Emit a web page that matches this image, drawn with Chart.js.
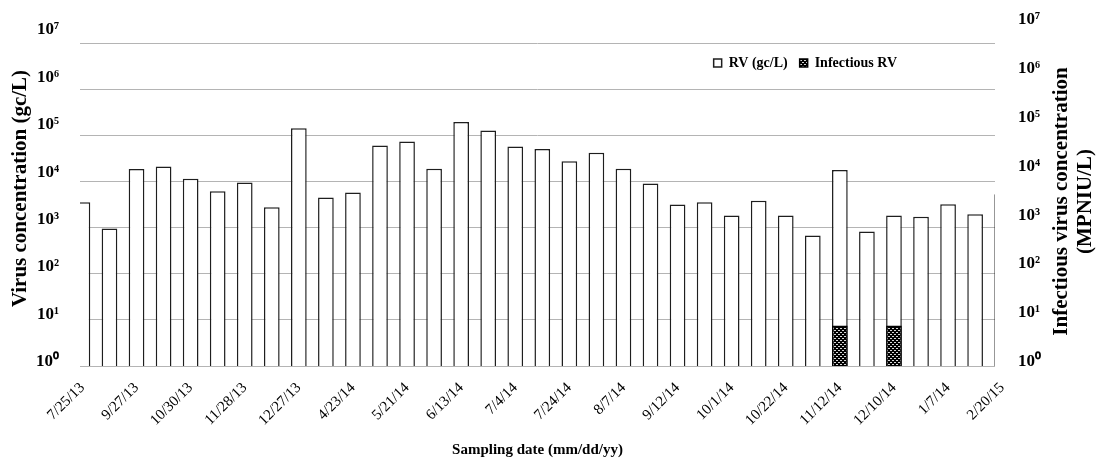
<!DOCTYPE html>
<html>
<head>
<meta charset="utf-8">
<script src="https://cdn.jsdelivr.net/npm/chart.js@4.4.1/dist/chart.umd.min.js"></script>
<style>
    html, body { margin: 0; padding: 0; background: #ffffff; }
    #wrap { width: 1096px; height: 465px; }
</style>
</head>
<body>
<div id="wrap"><canvas id="chart"></canvas></div>
<script>
// ─────────────────────────────────────────────────────────────────────────────
// Rotavirus (RV) — concentración por fecha de muestreo, eje log 10^0..10^7
// ─────────────────────────────────────────────────────────────────────────────

// Una fecha por barra; las barras sin etiqueta quedan en blanco
const dates = [
    '7/25/13', '', '9/27/13', '', '10/30/13', '', '11/28/13', '', '12/27/13', '',
    '4/23/14', '', '5/21/14', '', '6/13/14', '', '7/4/14', '', '7/24/14', '',
    '8/7/14', '', '9/12/14', '', '10/1/14', '', '10/22/14', '', '11/12/14', '',
    '12/10/14', '', '1/7/14', '', '2/20/15'
];

// RV (gc/L)
const rvValues = [
    3560, 950, 18500, 21000, 11400, 6150, 9500, 2770, 143000, 4480,
    5750, 60000, 73400, 18800, 193000, 127000, 57100, 50200, 27500, 41800,
    18800, 9000, 3150, 3550, 1820, 3800, 1820, 670, 17600, 820,
    1820, 1710, 3220, 1950, 5300
];

// Infectious RV (MPN IU/L) — solo dos muestras positivas
const infectiousValues = [
    null, null, null, null, null, null, null, null, null, null,
    null, null, null, null, null, null, null, null, null, null,
    null, null, null, null, null, null, null, null, 7.5, null,
    7.5, null, null, null, null
];

const decades     = [1, 10, 100, 1e3, 1e4, 1e5, 1e6, 1e7];
const SUP         = ['⁰', '¹', '²', '³', '⁴', '⁵', '⁶', '⁷'];
const seriesNames = ['RV (gc/L)', 'Infectious RV'];
const leftTitle   = 'Virus concentration (gc/L)';
const rightTitle  = ['Infectious virus concentration', '(MPNIU/L)'];
const xTitle      = 'Sampling date (mm/dd/yy)';

const SERIF = '"Liberation Serif", "Times New Roman", serif';

// Trama punteada negra para la serie infecciosa
function dottedPattern() {
    const tile = document.createElement('canvas');
    tile.width = 4; tile.height = 4;
    const t = tile.getContext('2d');
    t.fillStyle = '#000000';
    t.fillRect(0, 0, 4, 4);
    t.fillStyle = '#d8d8d8';
    t.fillRect(0, 0, 2, 1);
    t.fillRect(2, 2, 2, 1);
    return t.createPattern(tile, 'repeat');
}

const decadeLabel = v => '10' + SUP[Math.round(Math.log10(v))];
const setDecades  = scale => { scale.ticks = decades.map(v => ({ value: v })); };

// Texto vertical (lectura de abajo hacia arriba), una línea tras otra
function drawVerticalLines(ctx, lines, x, y, gap) {
    ctx.save();
    ctx.translate(x, y);
    ctx.rotate(-Math.PI / 2);
    ctx.font         = 'bold 21px ' + SERIF;
    ctx.fillStyle    = '#000000';
    ctx.textAlign    = 'center';
    ctx.textBaseline = 'middle';
    lines.forEach((line, i) => ctx.fillText(line, 0, i * gap));
    ctx.restore();
}

// Plugin inline: leyenda dentro del área + títulos de ejes verticales
const layoutTweaks = {
    id: 'layoutTweaks',
    afterLayout(chart) {
        const lg   = chart.legend;
        const area = chart.chartArea;
        lg.left   = area.left;
        lg.right  = area.left + 829;
        lg.top    = area.top + 1;
        lg.bottom = lg.top + 40;
    },
    afterDraw(chart) {
        const { ctx, chartArea } = chart;
        const mid = (chartArea.top + chartArea.bottom) / 2;
        drawVerticalLines(ctx, [leftTitle], chart.scales.yl.left + 21, mid - 16, 0);
        drawVerticalLines(ctx, rightTitle, chart.scales.y2.right - 34, mid - 3, 24);
    }
};

Chart.defaults.font.family = SERIF;
Chart.defaults.color       = '#000000';

new Chart(document.getElementById('chart').getContext('2d'), {
    type: 'bar',
    plugins: [layoutTweaks],
    data: {
        datasets: [
            {
                label: seriesNames[0],
                data: rvValues.map((v, i) => ({ x: i, y: v })),
                backgroundColor: '#ffffff',
                borderColor: '#1e1e1e',
                borderWidth: 1.5,
                grouped: false,
                order: 1,
                clip: 0
            },
            {
                label: seriesNames[1],
                data: infectiousValues.map((v, i) => ({ x: i, y: v })),
                backgroundColor: dottedPattern(),
                borderColor: '#000000',
                borderWidth: 1.5,
                grouped: false,
                order: 0,
                clip: 0
            }
        ]
    },
    options: {
        responsive:          true,
        maintainAspectRatio: false,
        animation:           false,
        devicePixelRatio:    1,
        categoryPercentage:  1,
        barPercentage:       0.58,
        layout: { padding: { top: 43, left: 0, right: 0, bottom: 0 } },
        plugins: {
            tooltip: { enabled: false },
            legend: {
                position: 'top',
                align: 'end',
                maxHeight: 0.01,
                labels: {
                    boxWidth: 8,
                    boxHeight: 8,
                    padding: 12,
                    font: { size: 14, weight: 'bold' },
                    sort: (a, b) => a.datasetIndex - b.datasetIndex
                }
            }
        },
        scales: {
            x: {
                type: 'linear',
                offset: false,
                min: -0.09,
                max: 33.735,
                grid:   { display: false },
                border: { display: false },
                afterBuildTicks: scale => {
                    scale.ticks = dates.map((d, i) => ({ value: i })).filter(t => dates[t.value]);
                },
                afterFit: scale => { scale.height = 99; },
                ticks: {
                    autoSkip: false,
                    minRotation: 45,
                    maxRotation: 45,
                    padding: 5,
                    font: { size: 15 },
                    callback: v => dates[v] || ''
                },
                title: {
                    display: true,
                    text: xTitle,
                    font: { size: 15, weight: 'bold' },
                    padding: { top: 0, bottom: 6 }
                }
            },
            y: {
                type: 'logarithmic',
                position: 'left',
                min: 1,
                max: 1e7,
                afterBuildTicks: setDecades,
                afterFit: scale => { scale.width = 0; },
                grid:   { color: '#b4b4b4', lineWidth: 1, drawTicks: false },
                border: { display: false },
                ticks:  { display: false }
            },
            yl: {
                type: 'logarithmic',
                position: 'left',
                min: Math.pow(10, -0.0907),
                max: Math.pow(10, 6.7259),
                afterBuildTicks: setDecades,
                afterFit: scale => { scale.width = 80; },
                grid:   { display: false },
                border: { display: false },
                ticks: {
                    padding: 13,
                    font: { size: 17, weight: 'bold' },
                    callback: decadeLabel
                }
            },
            y2: {
                type: 'logarithmic',
                position: 'right',
                min: Math.pow(10, -0.0881),
                max: Math.pow(10, 6.5289),
                afterBuildTicks: setDecades,
                afterFit: scale => { scale.width = 101; },
                grid:   { display: false },
                border: { display: false },
                ticks: {
                    padding: 15,
                    font: { size: 17, weight: 'bold' },
                    callback: decadeLabel
                }
            }
        }
    }
});
</script>
</body>
</html>
